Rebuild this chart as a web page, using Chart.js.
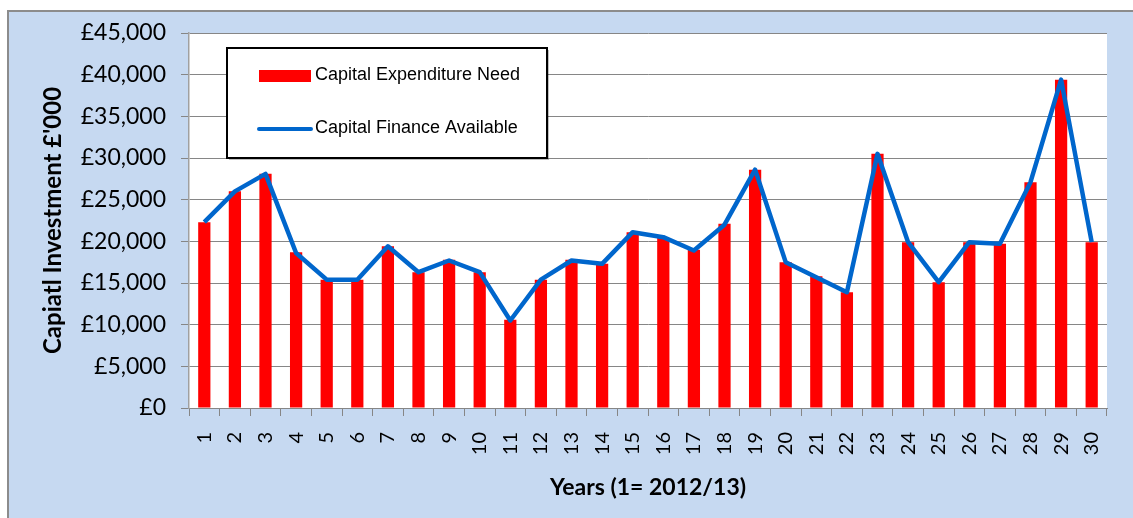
<!DOCTYPE html>
<html>
<head>
<meta charset="utf-8">
<script src="https://cdn.jsdelivr.net/npm/chart.js@4.4.1/dist/chart.umd.min.js"></script>
<style>
html, body { margin: 0; padding: 0; background: #fff; }
#marco {
    position: absolute; left: 7px; top: 10px;
    width: 1124px; height: 506px;
    background: #C6D9F1;
    border-left: 2px solid #8c8c8c;
    border-top: 2px solid #8c8c8c;
}
canvas { display: block; }
</style>
</head>
<body>
<div id="marco"><canvas id="grafico" width="1124" height="506"></canvas></div>
<script>
// Datos (miles de £)
const anios = ['1','2','3','4','5','6','7','8','9','10','11','12','13','14','15',
               '16','17','18','19','20','21','22','23','24','25','26','27','28','29','30'];
const gastoNecesario = [22300, 26000, 28100, 18700, 15400, 15400, 19400, 16300, 17800, 16300,
                        10600, 15400, 17800, 17300, 21100, 20400, 19000, 22100, 28600, 17500,
                        15800, 13900, 30500, 19900, 15100, 19900, 19700, 27100, 39400, 19900];
const financiacionDisponible = [22300, 26000, 28100, 18600, 15400, 15400, 19400, 16300, 17700, 16300,
                                10500, 15400, 17700, 17300, 21100, 20500, 18900, 22000, 28600, 17500,
                                15700, 13900, 30500, 19900, 15100, 19900, 19700, 27100, 39400, 19900];
const nombresSeries = ['Capital Expenditure Need', 'Capital Finance Available'];
const ejeY = { min: 0, max: 45000, paso: 5000 };
const tituloY = "Capiatl Investment £'000";
const tituloX = 'Years (1= 2012/13)';

const ROJO = '#FF0000';
const AZUL = '#0066CC';
const GRIS = '#868686';

// Fondo blanco del área de trazado
const fondoArea = {
    id: 'fondoArea',
    beforeDraw(chart) {
        const { ctx, chartArea: a } = chart;
        ctx.save();
        ctx.fillStyle = '#fff';
        ctx.fillRect(a.left, a.top, a.right - a.left, a.bottom - a.top);
        ctx.restore();
    }
};

// Leyenda en caja dentro del área de trazado
const leyendaCaja = {
    id: 'leyendaCaja',
    afterDraw(chart) {
        const { ctx, chartArea: a } = chart;
        const x = a.left + 38, y = a.top + 15, w = 320, h = 110;
        ctx.save();
        ctx.fillStyle = 'rgba(0,0,0,0.25)';
        ctx.fillRect(x + 2, y + 2, w, h);
        ctx.fillStyle = '#fff';
        ctx.fillRect(x, y, w, h);
        ctx.strokeStyle = '#000';
        ctx.lineWidth = 2;
        ctx.strokeRect(x, y, w, h);

        ctx.fillStyle = ROJO;
        ctx.fillRect(x + 32, y + 22, 52, 12);
        ctx.strokeStyle = AZUL;
        ctx.lineWidth = 4;
        ctx.lineCap = 'round';
        ctx.beginPath();
        ctx.moveTo(x + 32, y + 81);
        ctx.lineTo(x + 84, y + 81);
        ctx.stroke();

        ctx.fillStyle = '#000';
        ctx.font = '18px "Liberation Sans", Arial, sans-serif';
        ctx.textBaseline = 'middle';
        ctx.textAlign = 'left';
        ctx.fillText(nombresSeries[0], x + 88, y + 27);
        ctx.fillText(nombresSeries[1], x + 88, y + 80);
        ctx.restore();
    }
};

const ctx = document.getElementById('grafico').getContext('2d');
new Chart(ctx, {
    type: 'bar',
    data: {
        labels: anios,
        datasets: [
            {
                type: 'bar',
                label: nombresSeries[0],
                data: gastoNecesario,
                backgroundColor: ROJO,
                borderWidth: 0,
                categoryPercentage: 1,
                barPercentage: 0.4,
                order: 2
            },
            {
                type: 'line',
                label: nombresSeries[1],
                data: financiacionDisponible,
                borderColor: AZUL,
                borderWidth: 4.5,
                borderJoinStyle: 'round',
                pointRadius: 0,
                tension: 0,
                fill: false,
                order: 1
            }
        ]
    },
    options: {
        responsive: false,
        animation: false,
        layout: { autoPadding: false, padding: { left: 0, top: 21, right: 26, bottom: 0 } },
        plugins: {
            legend: { display: false },
            tooltip: { enabled: false }
        },
        scales: {
            x: {
                offset: true,
                grid: { drawOnChartArea: false, offset: true, color: GRIS, tickLength: 8 },
                border: { color: GRIS, width: 1 },
                ticks: {
                    autoSkip: false, minRotation: 90, maxRotation: 90, padding: 16,
                    color: '#000', font: { family: 'Lato', size: 20 }
                },
                title: {
                    display: true, text: tituloX, color: '#000',
                    font: { family: 'Lato', size: 23, weight: 'bold' },
                    padding: { top: 4, bottom: 17 }
                },
                afterFit(scale) {
                    scale.height = 110;
                    scale.paddingLeft = 0;
                    scale.paddingRight = 0;
                }
            },
            y: {
                min: ejeY.min, max: ejeY.max,
                grid: { color: GRIS, tickLength: 8 },
                border: { color: '#a0a0a0', width: 1.5 },
                ticks: {
                    stepSize: ejeY.paso, padding: 15, color: '#000',
                    font: { family: 'Lato', size: 23 },
                    callback: v => '£' + v.toLocaleString('en-GB')
                },
                title: {
                    display: true, text: tituloY, color: '#000',
                    font: { family: 'Lato', size: 24, weight: 'bold' },
                    padding: { top: 30, bottom: 0 }
                },
                afterFit(scale) {
                    scale.width = 180;
                    scale.paddingTop = 0;
                    scale.paddingBottom = 0;
                }
            }
        }
    },
    plugins: [fondoArea, leyendaCaja]
});
</script>
</body>
</html>
